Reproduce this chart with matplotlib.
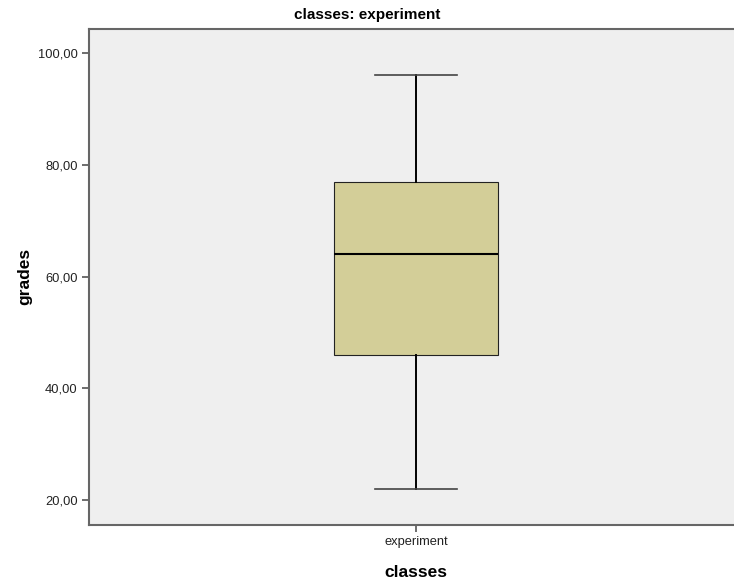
import matplotlib
matplotlib.use('agg')
import matplotlib.pyplot as plt
from matplotlib.ticker import FuncFormatter

# five-number summary of the grades for the experiment class
groups = ['experiment']
whisker_low = [22]
q1 = [46]
median = [64]
q3 = [77]
whisker_high = [96]
yticks = [20, 40, 60, 80, 100]

plt.rcParams['font.family'] = ['Liberation Sans', 'DejaVu Sans']

fig = plt.figure(figsize=(7.34, 5.83), dpi=100)
ax = fig.add_axes([0.1219, 0.1003, 0.8896, 0.8508])
ax.set_facecolor('#efefef')

stats = []
for i, g in enumerate(groups):
    stats.append({'label': g, 'whislo': whisker_low[i], 'q1': q1[i],
                  'med': median[i], 'q3': q3[i], 'whishi': whisker_high[i],
                  'fliers': []})

ax.bxp(stats, positions=[0], widths=0.5, patch_artist=True, showfliers=False,
       boxprops=dict(facecolor='#d3ce98', edgecolor='#222222', linewidth=0.8),
       medianprops=dict(color='black', linewidth=1.5),
       whiskerprops=dict(color='black', linewidth=1.4),
       capprops=dict(color='#444444', linewidth=1.2),
       capwidths=0.25)

ax.set_xlim(-1, 1)
ax.set_ylim(15.6, 104.4)
ax.set_yticks(yticks)
ax.yaxis.set_major_formatter(FuncFormatter(lambda v, p: ('%.2f' % v).replace('.', ',')))
ax.set_xticks([0])
ax.set_xticklabels(groups)
ax.tick_params(axis='both', labelsize=9.3, color='#555555', width=1.2, length=5,
               labelcolor='#222222')

for side in ['left', 'bottom', 'top']:
    ax.spines[side].set_color('#666666')
    ax.spines[side].set_linewidth(1.5)
ax.spines['right'].set_visible(False)

ax.set_xlabel('classes', fontsize=12.5, fontweight='bold', labelpad=12)
ax.set_ylabel('grades', fontsize=12.5, fontweight='bold', labelpad=4)
fig.text(0.5, 0.975, 'classes: experiment', ha='center', va='center',
         fontsize=11, fontweight='bold')

plt.savefig('out.png', dpi=100)
